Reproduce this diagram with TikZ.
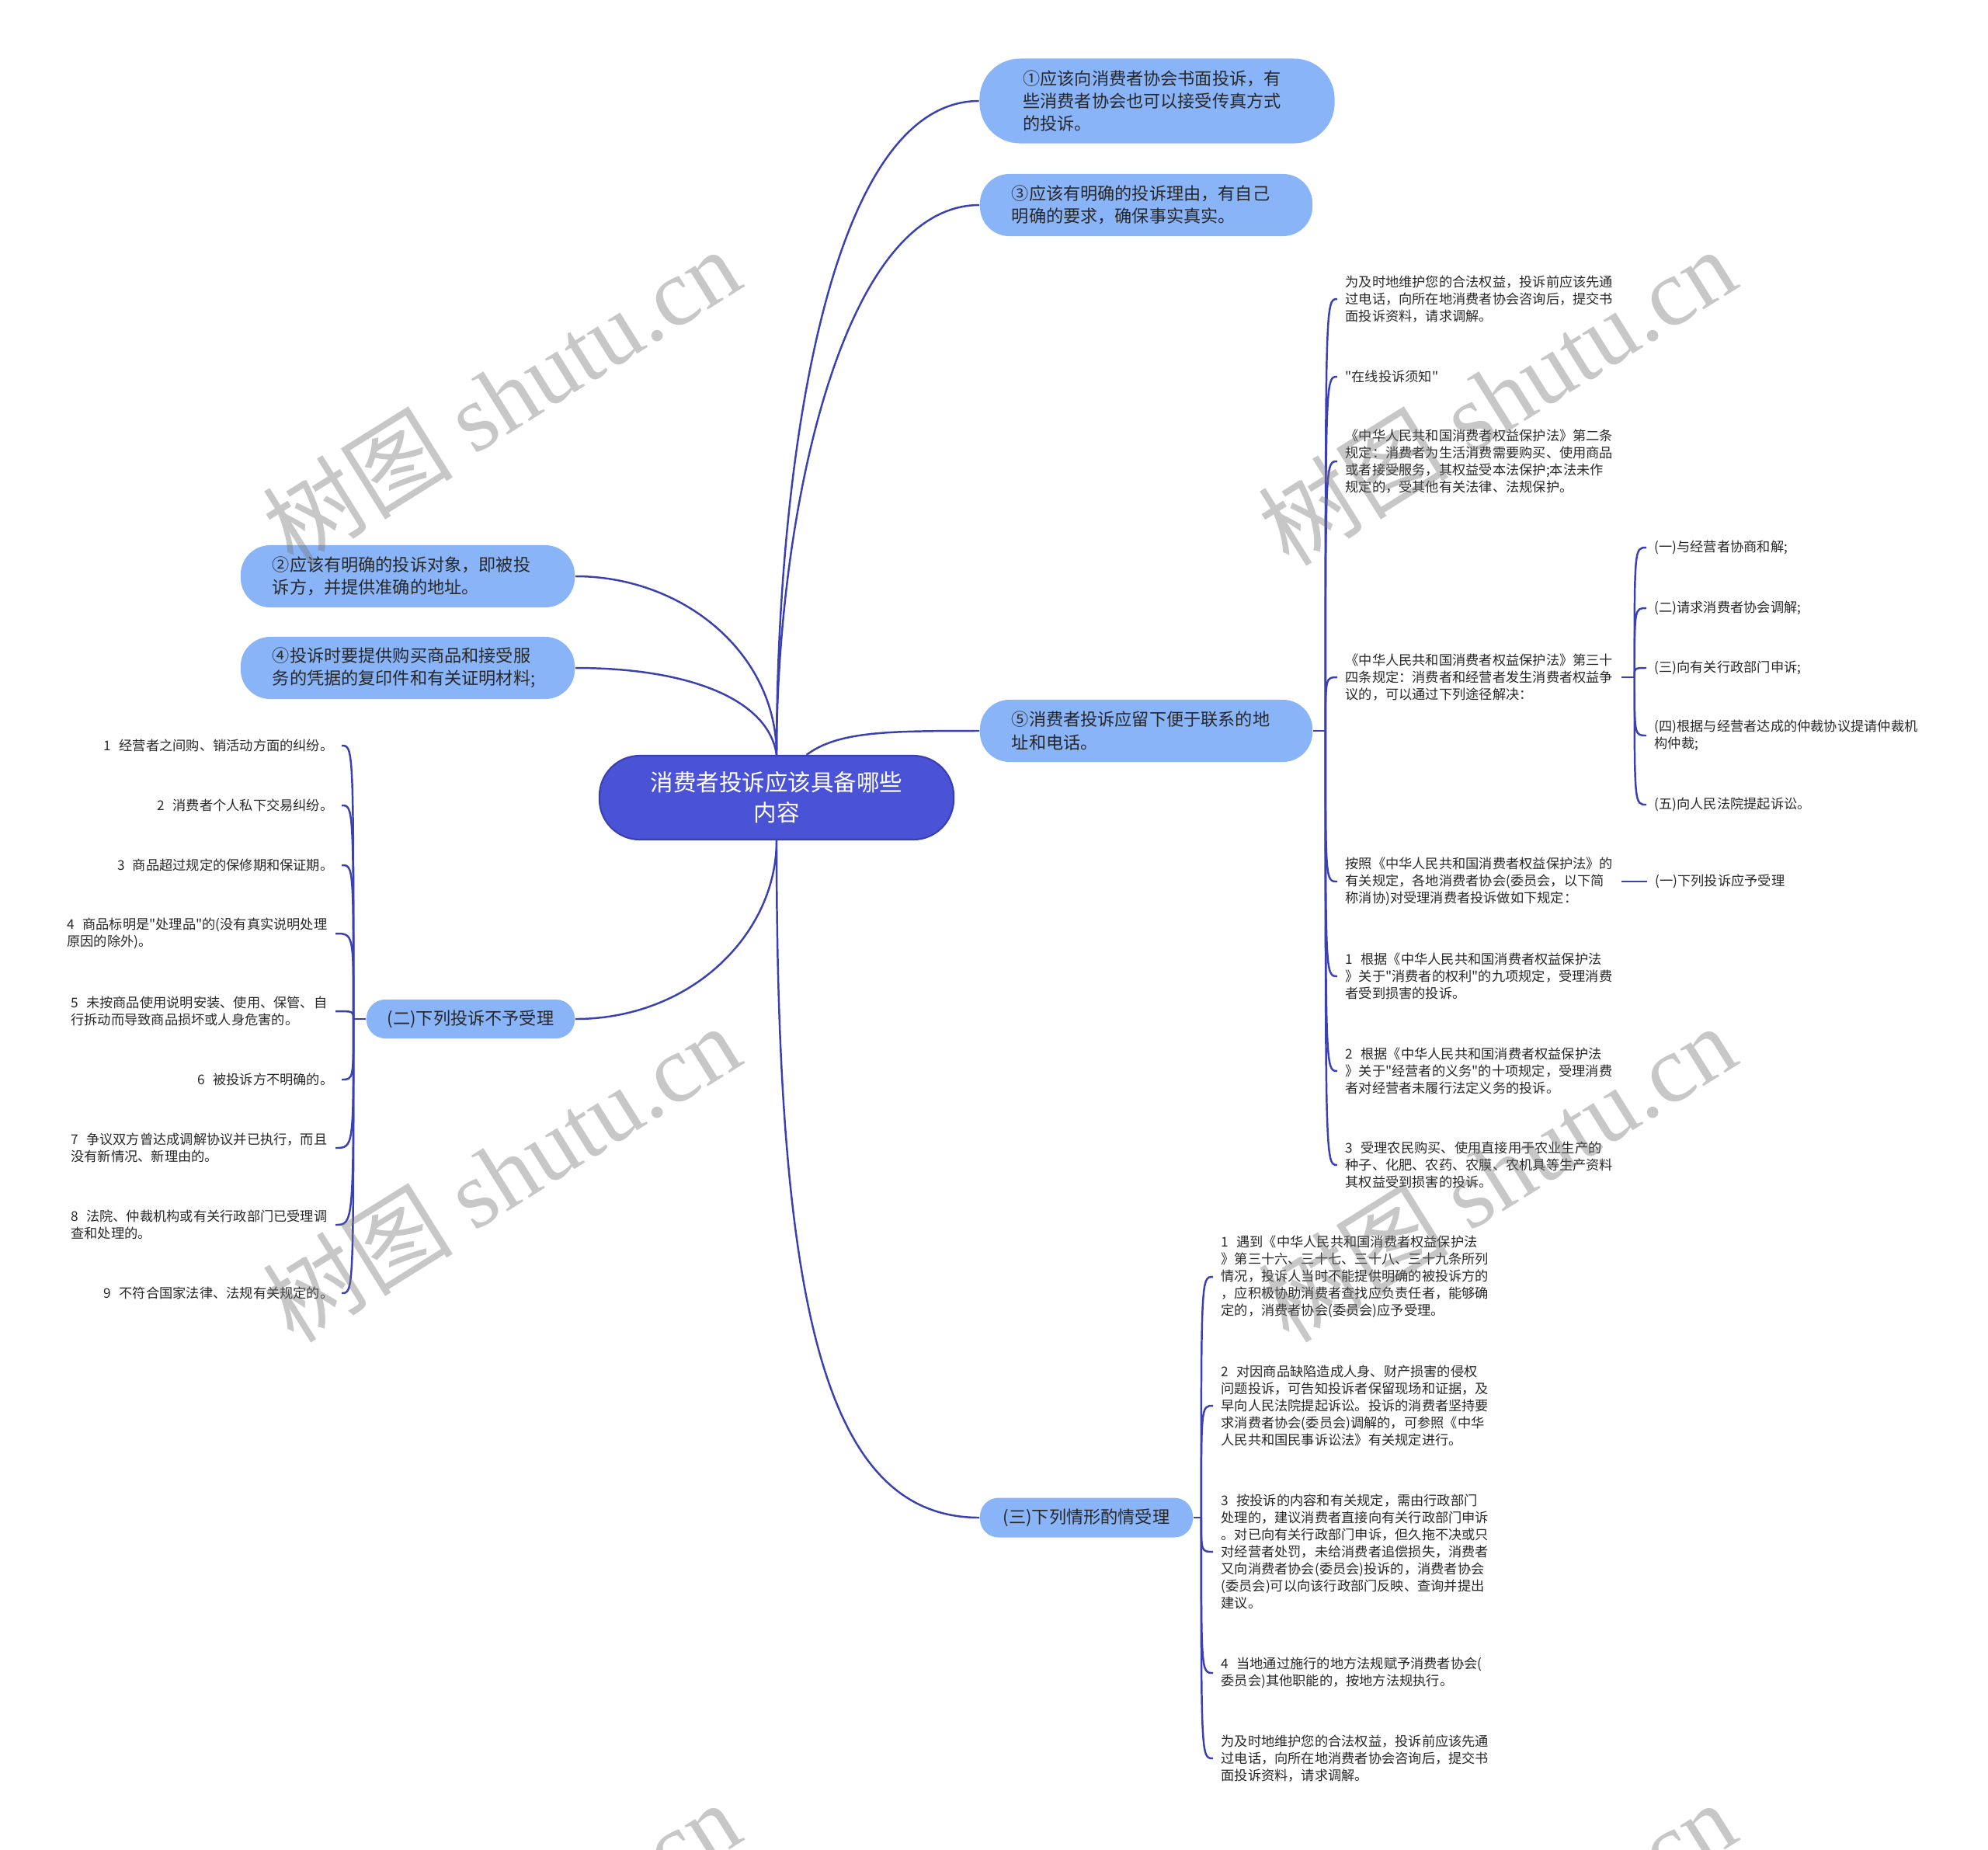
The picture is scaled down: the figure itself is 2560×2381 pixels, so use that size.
\documentclass[tikz,border=0pt]{standalone}
\usepackage{fontspec}
\setmainfont{Noto Sans CJK SC}[Ligatures=TeXOff]
\newfontfamily\wmlatin{Liberation Serif}
\usetikzlibrary{calc}
\definecolor{linkblue}{RGB}{58,64,176}
\definecolor{topicblue}{RGB}{138,180,248}
\definecolor{rootblue}{RGB}{74,82,214}
\definecolor{inkgray}{RGB}{40,40,40}
\newcommand\numgap{\hspace{0.6em}}

\tikzset{
  link/.style={draw=linkblue, line width=0.7pt},
  root/.style={fill=rootblue, draw=linkblue, line width=0.6pt,
    rounded corners=0.52cm, text=white, align=center,
    font={\fontsize{8.4pt}{11pt}\selectfont},
    minimum width=4.56cm, minimum height=1.08cm},
  topic/.style={fill=topicblue, rounded corners=0.38cm, text=inkgray,
    align=left, font={\fontsize{6.3pt}{8.3pt}\selectfont},
    minimum height=0.8cm},
  leaf/.style={text=inkgray, align=left, inner xsep=2.8pt, inner ysep=1pt,
    font={\fontsize{4.9pt}{6.25pt}\selectfont}},
  leafr/.style={leaf, anchor=west},
  leafl/.style={leaf, anchor=east},
  wmtext/.style={text=black!55, text opacity=0.4, rotate=32,
    font={\fontsize{35pt}{35pt}\selectfont}}
}

\begin{document}
\begin{tikzpicture}[x=0.01cm,y=-0.01cm]
  \useasboundingbox (0,0) rectangle (2560,2381);

  % central topic
  \node[root] (root) at (1000,1027) {消费者投诉应该具备哪些\\内容};

  % first level topics
  \node[topic, text width=3.45cm, inner xsep=0.56cm, minimum height=1.09cm,
    rounded corners=0.52cm] (t1) at (1490,130)
    {①应该向消费者协会书面投诉，有\\些消费者协会也可以接受传真方式\\的投诉。};
  \node[topic, text width=3.46cm, inner xsep=0.41cm] (t3) at (1476,264)
    {③应该有明确的投诉理由，有自己\\明确的要求，确保事实真实。};
  \node[topic, text width=3.48cm, inner xsep=0.41cm] (t2) at (525,742)
    {②应该有明确的投诉对象，即被投\\诉方，并提供准确的地址。};
  \node[topic, text width=3.48cm, inner xsep=0.41cm] (t4) at (525,860)
    {④投诉时要提供购买商品和接受服\\务的凭据的复印件和有关证明材料;};
  \node[topic, text width=3.46cm, inner xsep=0.41cm] (t5) at (1476,941)
    {⑤消费者投诉应留下便于联系的地\\址和电话。};
  \node[topic, minimum width=2.68cm, minimum height=0.5cm,
    rounded corners=0.24cm] (b2) at (606,1312) {(二)下列投诉不予受理};
  \node[topic, minimum width=2.74cm, minimum height=0.51cm,
    rounded corners=0.24cm] (b3) at (1399,1954) {(三)下列情形酌情受理};

  \draw[link] (root.north) .. controls +(0,-350) and +(-200,0) .. (t1.west);
  \draw[link] (root.north) .. controls +(0,-300) and +(-180,0) .. (t3.west);
  \draw[link] (root.north) .. controls +(0,-130) and +(140,0) .. (t2.east);
  \draw[link] (root.north) .. controls +(-10,-70) and +(150,0) .. (t4.east);
  \draw[link] (root.55) .. controls +(40,-30) and +(-120,0) .. (t5.west);
  \draw[link] (root.south) .. controls +(0,120) and +(150,0) .. (b2.east);
  \draw[link] (root.south) .. controls +(0,600) and +(-200,0) .. (b3.west);

  % details of topic 5
  \node[leafr] (r1) at (1722,385)
    {为及时地维护您的合法权益，投诉前应该先通\\过电话，向所在地消费者协会咨询后，提交书\\面投诉资料，请求调解。};
  \node[leafr] (r2) at (1722,485) {"在线投诉须知"};
  \node[leafr] (r3) at (1722,594)
    {《中华人民共和国消费者权益保护法》第二条\\规定：消费者为生活消费需要购买、使用商品\\或者接受服务，其权益受本法保护;本法未作\\规定的，受其他有关法律、法规保护。};
  \node[leafr] (r4) at (1722,872)
    {《中华人民共和国消费者权益保护法》第三十\\四条规定：消费者和经营者发生消费者权益争\\议的，可以通过下列途径解决：};
  \node[leafr] (r5) at (1722,1135)
    {按照《中华人民共和国消费者权益保护法》的\\有关规定，各地消费者协会(委员会，以下简\\称消协)对受理消费者投诉做如下规定：};
  \node[leafr] (r6) at (1722,1257)
    {1\numgap 根据《中华人民共和国消费者权益保护法\\》关于"消费者的权利"的九项规定，受理消费\\者受到损害的投诉。};
  \node[leafr] (r7) at (1722,1379)
    {2\numgap 根据《中华人民共和国消费者权益保护法\\》关于"经营者的义务"的十项规定，受理消费\\者对经营者未履行法定义务的投诉。};
  \node[leafr] (r8) at (1722,1500)
    {3\numgap 受理农民购买、使用直接用于农业生产的\\种子、化肥、农药、农膜、农机具等生产资料\\其权益受到损害的投诉。};

  \coordinate (j5) at ($(t5.east)+(16,0)$);
  \draw[link] (t5.east) -- (j5);
  \draw[link] (j5) .. controls (j5 |- r1.west) .. (r1.west);
  \draw[link] (j5) .. controls (j5 |- r2.west) .. (r2.west);
  \draw[link] (j5) .. controls (j5 |- r3.west) .. (r3.west);
  \draw[link] (j5) .. controls (j5 |- r4.west) .. (r4.west);
  \draw[link] (j5) .. controls (j5 |- r5.west) .. (r5.west);
  \draw[link] (j5) .. controls (j5 |- r6.west) .. (r6.west);
  \draw[link] (j5) .. controls (j5 |- r7.west) .. (r7.west);
  \draw[link] (j5) .. controls (j5 |- r8.west) .. (r8.west);

  % ways to settle a dispute
  \node[leafr] (s1) at (2120,705) {(一)与经营者协商和解;};
  \node[leafr] (s2) at (2120,783) {(二)请求消费者协会调解;};
  \node[leafr] (s3) at (2120,860) {(三)向有关行政部门申诉;};
  \node[leafr] (s4) at (2120,947)
    {(四)根据与经营者达成的仲裁协议提请仲裁机\\构仲裁;};
  \node[leafr] (s5) at (2120,1036) {(五)向人民法院提起诉讼。};

  \coordinate (jd) at ($(r4.east)+(17,0)$);
  \draw[link] (r4.east) -- (jd);
  \draw[link] (jd) .. controls (jd |- s1.west) .. (s1.west);
  \draw[link] (jd) .. controls (jd |- s2.west) .. (s2.west);
  \draw[link] (jd) .. controls (jd |- s3.west) .. (s3.west);
  \draw[link] (jd) .. controls (jd |- s4.west) .. (s4.west);
  \draw[link] (jd) .. controls (jd |- s5.west) .. (s5.west);

  \node[leafr] (u1) at (2121,1135) {(一)下列投诉应予受理};
  \draw[link] (r5.east) -- (u1.west);

  % complaints not accepted
  \node[leafl] (l1) at (440,960) {1\numgap 经营者之间购、销活动方面的纠纷。};
  \node[leafl] (l2) at (440,1037) {2\numgap 消费者个人私下交易纠纷。};
  \node[leafl] (l3) at (440,1114) {3\numgap 商品超过规定的保修期和保证期。};
  \node[leafl] (l4) at (432,1202)
    {4\numgap 商品标明是"处理品"的(没有真实说明处理\\原因的除外)。};
  \node[leafl] (l5) at (432,1302)
    {5\numgap 未按商品使用说明安装、使用、保管、自\\行拆动而导致商品损坏或人身危害的。};
  \node[leafl] (l6) at (440,1390) {6\numgap 被投诉方不明确的。};
  \node[leafl] (l7) at (432,1478)
    {7\numgap 争议双方曾达成调解协议并已执行，而且\\没有新情况、新理由的。};
  \node[leafl] (l8) at (432,1577)
    {8\numgap 法院、仲裁机构或有关行政部门已受理调\\查和处理的。};
  \node[leafl] (l9) at (440,1665) {9\numgap 不符合国家法律、法规有关规定的。};

  \coordinate (j2) at ($(b2.west)+(-16,0)$);
  \draw[link] (b2.west) -- (j2);
  \draw[link] (j2) .. controls (j2 |- l1.east) .. (l1.east);
  \draw[link] (j2) .. controls (j2 |- l2.east) .. (l2.east);
  \draw[link] (j2) .. controls (j2 |- l3.east) .. (l3.east);
  \draw[link] (j2) .. controls (j2 |- l4.east) .. (l4.east);
  \draw[link] (j2) .. controls (j2 |- l5.east) .. (l5.east);
  \draw[link] (j2) .. controls (j2 |- l6.east) .. (l6.east);
  \draw[link] (j2) .. controls (j2 |- l7.east) .. (l7.east);
  \draw[link] (j2) .. controls (j2 |- l8.east) .. (l8.east);
  \draw[link] (j2) .. controls (j2 |- l9.east) .. (l9.east);

  % complaints accepted case by case
  \node[leafr] (p1) at (1562,1644)
    {1\numgap 遇到《中华人民共和国消费者权益保护法\\》第三十六、三十七、三十八、三十九条所列\\情况，投诉人当时不能提供明确的被投诉方的\\，应积极协助消费者查找应负责任者，能够确\\定的，消费者协会(委员会)应予受理。};
  \node[leafr] (p2) at (1562,1810)
    {2\numgap 对因商品缺陷造成人身、财产损害的侵权\\问题投诉，可告知投诉者保留现场和证据，及\\早向人民法院提起诉讼。投诉的消费者坚持要\\求消费者协会(委员会)调解的，可参照《中华\\人民共和国民事诉讼法》有关规定进行。};
  \node[leafr] (p3) at (1562,1998)
    {3\numgap 按投诉的内容和有关规定，需由行政部门\\处理的，建议消费者直接向有关行政部门申诉\\。对已向有关行政部门申诉，但久拖不决或只\\对经营者处罚，未给消费者追偿损失，消费者\\又向消费者协会(委员会)投诉的，消费者协会\\(委员会)可以向该行政部门反映、查询并提出\\建议。};
  \node[leafr] (p4) at (1562,2154)
    {4\numgap 当地通过施行的地方法规赋予消费者协会(\\委员会)其他职能的，按地方法规执行。};
  \node[leafr] (p5) at (1562,2264)
    {为及时地维护您的合法权益，投诉前应该先通\\过电话，向所在地消费者协会咨询后，提交书\\面投诉资料，请求调解。};

  \coordinate (j3) at ($(b3.east)+(10,0)$);
  \draw[link] (b3.east) -- (j3);
  \draw[link] (j3) .. controls (j3 |- p1.west) .. (p1.west);
  \draw[link] (j3) .. controls (j3 |- p2.west) .. (p2.west);
  \draw[link] (j3) .. controls (j3 |- p3.west) .. (p3.west);
  \draw[link] (j3) .. controls (j3 |- p4.west) .. (p4.west);
  \draw[link] (j3) .. controls (j3 |- p5.west) .. (p5.west);

  % watermark
  \node[wmtext] (wm1) at (645,510) {树图 {\wmlatin shutu.cn}};
  \node[wmtext] (wm2) at (1927,510) {树图 {\wmlatin shutu.cn}};
  \node[wmtext] (wm3) at (645,1510) {树图 {\wmlatin shutu.cn}};
  \node[wmtext] (wm4) at (1927,1510) {树图 {\wmlatin shutu.cn}};
  \node[wmtext] (wm5) at (645,2510) {树图 {\wmlatin shutu.cn}};
  \node[wmtext] (wm6) at (1927,2510) {树图 {\wmlatin shutu.cn}};

\end{tikzpicture}
\end{document}
